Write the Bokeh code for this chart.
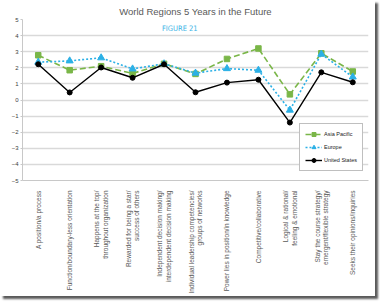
from bokeh.plotting import figure
from bokeh.models import (ColumnDataSource, FactorRange, Range1d, FixedTicker,
                          Legend, LegendItem, Label)
from bokeh.embed import file_html
from bokeh.resources import INLINE

# Leadership attributes (x axis categories)
categories = [
    "A position/a process",
    "Function/boundary-less orientation",
    "Happens at the top/\nthroughout organization",
    "Rewarded for being a star/\nsuccess of others",
    "Independent decision making/\ninterdependent decision making",
    "Individual leadership competencies/\ngroups of networks",
    "Power lies in position/in knowledge",
    "Competitive/collaborative",
    "Logical & rational/\nfeeling & emotional",
    "Stay the course strategy/\nemergent/flexible strategy",
    "Seeks their opinions/inquiries",
]

# Mean scores per region
asia_pacific = [2.78, 1.85, 2.10, 1.65, 2.25, 1.62, 2.55, 3.20, 0.35, 2.90, 1.77]
europe = [2.35, 2.43, 2.62, 1.93, 2.25, 1.67, 1.95, 1.85, -0.63, 2.85, 1.43]
united_states = [2.22, 0.47, 2.02, 1.38, 2.22, 0.48, 1.08, 1.26, -1.40, 1.72, 1.10]

y_ticks = [-5, -4, -3, -2, -1, 0, 1, 2, 3, 4, 5]

src = ColumnDataSource(dict(cat=categories, ap=asia_pacific, eu=europe, us=united_states))

p = figure(width=375, height=296, x_range=FactorRange(*categories),
           y_range=Range1d(-5, 5), output_backend="svg", toolbar_location=None,
           min_border_left=22, min_border_right=7, min_border_top=19,
           min_border_bottom=113)
p.styles = {"box-shadow": "3px 3px 2px #5a5a5a"}
p.background_fill_color = "white"
p.border_fill_color = "white"
p.outline_line_color = None

p.title.text = "World Regions 5 Years in the Future"
p.title.align = "center"
p.title.text_font_size = "9.5px"
p.title.text_font_style = "normal"
p.title.text_color = "#595959"
p.title.standoff = 6
p.title.offset = -3

p.xgrid.grid_line_color = None
p.ygrid.grid_line_color = "#d9d9d9"
p.ygrid.grid_line_width = 1.5

p.yaxis.ticker = FixedTicker(ticks=y_ticks)
p.yaxis.axis_line_color = "#c8c8c8"
p.yaxis.major_tick_line_color = "#c8c8c8"
p.yaxis.major_tick_out = 2
p.yaxis.major_tick_in = 0
p.yaxis.minor_tick_line_color = None
p.yaxis.major_label_text_font_size = "6px"
p.yaxis.major_label_text_color = "#404040"
p.yaxis.major_label_standoff = 2

p.xaxis.axis_line_color = "#c8c8c8"
p.xaxis.major_tick_line_color = None
p.xaxis.major_label_orientation = 1.5708
p.xaxis.major_label_text_font_size = "6.5px"
p.xaxis.major_label_text_color = "#595959"
p.xaxis.major_label_standoff = 4

green = "#7ab648"
blue = "#2bb0e6"

ap_line = p.line("cat", "ap", source=src, color=green, line_width=1.6, line_dash="6 3")
ap_mark = p.scatter("cat", "ap", source=src, marker="square", size=5.5, color=green)
eu_line = p.line("cat", "eu", source=src, color=blue, line_width=1.6, line_dash="2 2")
eu_mark = p.scatter("cat", "eu", source=src, marker="triangle", size=7, color=blue)
us_line = p.line("cat", "us", source=src, color="black", line_width=1.4)
us_mark = p.scatter("cat", "us", source=src, marker="circle", size=5, color="black")

legend = Legend(items=[
    LegendItem(label="Asia Pacific", renderers=[ap_line, ap_mark]),
    LegendItem(label="Europe", renderers=[eu_line, eu_mark]),
    LegendItem(label="United States", renderers=[us_line, us_mark]),
], location=(277, 9), orientation="vertical")
legend.label_text_font_size = "5.5px"
legend.label_text_color = "#222222"
legend.glyph_width = 17
legend.glyph_height = 10
legend.spacing = 3
legend.padding = 5
legend.margin = 0
legend.label_standoff = 2
legend.label_height = 10
legend.border_line_color = "#7f7f7f"
legend.border_line_width = 1
legend.background_fill_alpha = 1
p.add_layout(legend, "center")

p.add_layout(Label(x=5.0, y=4.45, text="FIGURE 21",
                   text_font="DejaVu Sans Condensed", text_font_size="7.5px",
                   text_color="#3ab4e6", text_align="center", text_baseline="middle"))

open("out.html", "w").write(file_html(p, INLINE))
